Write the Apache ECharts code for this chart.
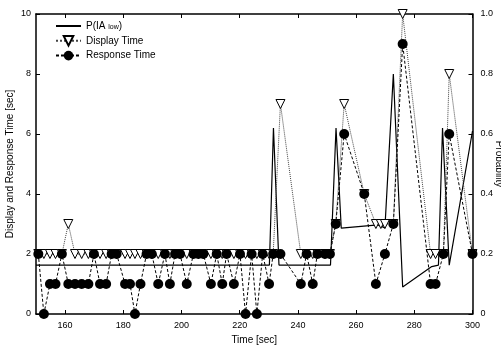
<!DOCTYPE html>
<html>
<head>
<meta charset="utf-8">
<script src="https://cdn.jsdelivr.net/npm/echarts@6/dist/echarts.min.js"></script>
<style>
html,body{margin:0;padding:0;background:#fff;}
#chart{width:501px;height:347px;}
</style>
</head>
<body>
<div id="chart"></div>
<script>
// ---- data ----
const times = [150.8,152.7,154.8,156.7,158.9,161.1,163.4,165.7,168.0,169.9,172.0,174.1,176.0,177.7,180.6,182.3,184.0,185.9,188.0,189.8,192.0,194.3,196.0,197.8,199.5,201.8,204.1,205.8,207.5,210.1,212.1,214.0,215.5,218.0,220.1,222.0,224.1,225.9,227.9,230.1,231.5,234.0,241.0,243.0,245.1,246.7,249.3,251.0,253.0,255.9,262.8,266.8,268.5,269.9,272.8,276.0,285.6,287.3,290.0,292.0,300.0];
const displayTime = [2,2,2,2,2,3,2,2,2,2,2,2,2,2,2,2,2,2,2,2,2,2,2,2,2,2,2,2,2,2,2,2,2,2,2,2,2,2,2,2,2,7,2,2,2,2,2,2,3,7,4,3,3,3,3,10,2,2,2,8,2];
const responseTime = [2,0,1,1,2,1,1,1,1,2,1,1,2,2,1,1,0,1,2,2,1,2,1,2,2,1,2,2,2,1,2,1,2,1,2,0,2,0,2,1,2,2,1,2,1,2,2,2,3,6,4,1,null,2,3,9,1,1,2,6,2];
const pTimes = [150,230.2,231.6,233.5,251.2,253.1,254.9,267.5,269.9,272.8,276.0,286.0,288.3,289.7,292.0,300.0];
const pValues = [0.163,0.163,0.62,0.163,0.163,0.62,0.286,0.297,0.287,0.80,0.09,0.158,0.163,0.62,0.163,0.61];
const xTicks = [160,180,200,220,240,260,280,300];
const seriesNames = ['P(IA low)','Display Time','Response Time'];

const FONT = "'Liberation Sans', Arial, Helvetica, sans-serif";
const chart = echarts.init(document.getElementById('chart'), null, {renderer:'canvas'});

const axisLineStyle = {color:'#000', width:1.5};
const tickStyle = {color:'#000', width:1};

chart.setOption({
  animation:false,
  backgroundColor:'#fff',
  textStyle:{fontFamily:FONT, color:'#000'},
  grid:{left:36, right:28.5, top:14, bottom:33, containLabel:false, outerBoundsMode:'none'},
  legend:{
    orient:'vertical', left:55, top:21, padding:0,
    itemWidth:25, itemHeight:12, itemGap:4,
    data:[
      {name:seriesNames[0], itemStyle:{opacity:0}},
      {name:seriesNames[1]},
      {name:seriesNames[2]}
    ],
    textStyle:{fontFamily:FONT, fontSize:10, color:'#000',
      rich:{n:{fontFamily:FONT,fontSize:10,color:'#000'}, s:{fontFamily:FONT,fontSize:7,color:'#000',padding:[3,0,0,0]}}},
    formatter:function(name){
      if(name===seriesNames[0]) return '{n|P(IA }{s|low}{n|)}';
      return name;
    }
  },
  xAxis:[
    {type:'value', min:150, max:300, position:'bottom',
     axisLine:{show:true, onZero:false, lineStyle:axisLineStyle},
     axisTick:{show:true, inside:true, length:4, customValues:xTicks, lineStyle:tickStyle},
     axisLabel:{show:true, customValues:xTicks, color:'#000', fontSize:9, fontFamily:FONT, margin:7},
     splitLine:{show:false},
     name:'Time [sec]', nameLocation:'middle', nameGap:20,
     nameTextStyle:{fontSize:10, fontFamily:FONT, color:'#000'}},
    {type:'value', min:150, max:300, position:'top',
     axisLine:{show:true, onZero:false, lineStyle:axisLineStyle},
     axisTick:{show:true, inside:true, length:4, customValues:xTicks, lineStyle:tickStyle},
     axisLabel:{show:false}, splitLine:{show:false}}
  ],
  yAxis:[
    {type:'value', min:0, max:10, interval:2, position:'left',
     axisLine:{show:true, onZero:false, lineStyle:axisLineStyle},
     axisTick:{show:true, inside:true, length:4, lineStyle:tickStyle},
     axisLabel:{color:'#000', fontSize:9, fontFamily:FONT, margin:5},
     splitLine:{show:false},
     name:'Display and Response Time [sec]', nameLocation:'middle', nameGap:21, nameRotate:90,
     nameMoveOverlap:false,
     nameTextStyle:{fontSize:10, fontFamily:FONT, color:'#000'}},
    {type:'value', min:0, max:1, interval:0.2, position:'right',
     axisLine:{show:true, onZero:false, lineStyle:axisLineStyle},
     axisTick:{show:true, inside:true, length:4, lineStyle:tickStyle},
     axisLabel:{color:'#000', fontSize:9, fontFamily:FONT, margin:8,
       formatter:function(v){return v===0?'0':v.toFixed(1);}},
     splitLine:{show:false},
     name:'Probability', nameLocation:'middle', nameGap:21, nameRotate:-90,
     nameMoveOverlap:false,
     nameTextStyle:{fontSize:10, fontFamily:FONT, color:'#000'}}
  ],
  series:[
    {name:seriesNames[0], type:'line', xAxisIndex:0, yAxisIndex:1,
     data:pTimes.map((t,i)=>[t,pValues[i]]),
     symbol:'none', showSymbol:false, z:2,
     lineStyle:{color:'#000', width:1.2, type:'solid'}, itemStyle:{color:'#000'}},
    {name:seriesNames[1], type:'line', xAxisIndex:0, yAxisIndex:0,
     data:times.map((t,i)=>[t,displayTime[i]]),
     symbol:'triangle', symbolRotate:180, symbolSize:9, showSymbol:true, z:3,
     lineStyle:{color:'#444', width:1, type:'dotted'},
     itemStyle:{color:'#fff', borderColor:'#000', borderWidth:1}},
    {name:seriesNames[2], type:'line', xAxisIndex:0, yAxisIndex:0,
     data:times.map((t,i)=>[t,responseTime[i]]),
     connectNulls:true,
     symbol:'circle', symbolSize:10, showSymbol:true, z:4,
     lineStyle:{color:'#000', width:1, type:[3,2]},
     itemStyle:{color:'#000'}}
  ]
});
</script>
</body>
</html>
